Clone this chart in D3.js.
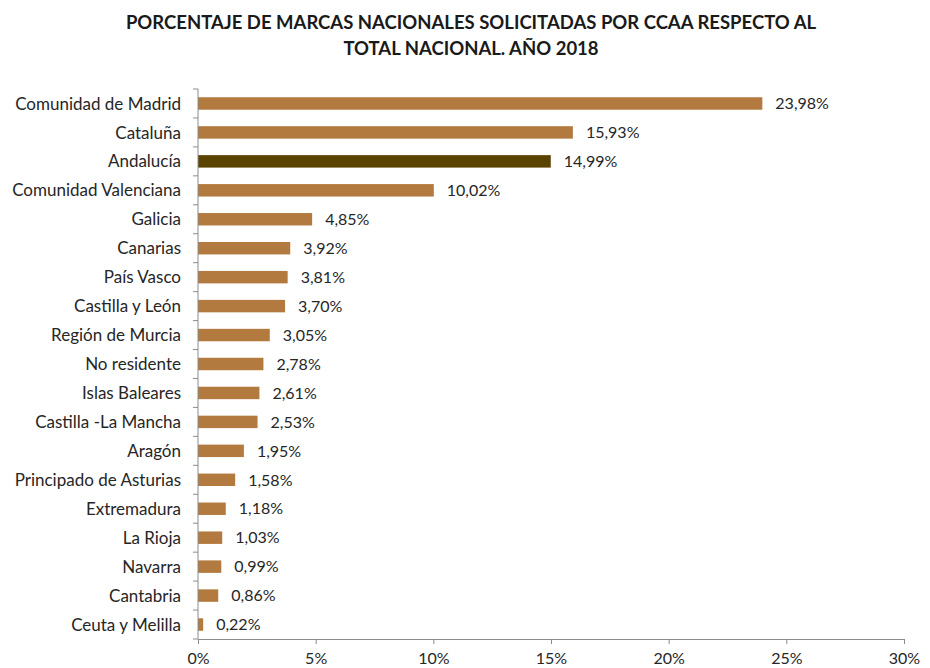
<!DOCTYPE html>
<html><head><meta charset="utf-8">
<script src="https://cdn.jsdelivr.net/npm/d3@7"></script>
<style>body{margin:0;background:#fff;} text{font-family:Lato,"Open Sans",sans-serif;}</style>
</head><body>
<svg id="c" width="930" height="668"></svg>
<script>
const categories = ["Comunidad de Madrid","Cataluña","Andalucía","Comunidad Valenciana","Galicia","Canarias","País Vasco","Castilla y León","Región de Murcia","No residente","Islas Baleares","Castilla -La Mancha","Aragón","Principado de Asturias","Extremadura","La Rioja","Navarra","Cantabria","Ceuta y Melilla"];
const values = [23.98,15.93,14.99,10.02,4.85,3.92,3.81,3.70,3.05,2.78,2.61,2.53,1.95,1.58,1.18,1.03,0.99,0.86,0.22];
const xTicks = [0,5,10,15,20,25,30];
const highlight = "Andalucía";
const titleLines = ["PORCENTAJE DE MARCAS NACIONALES SOLICITADAS POR CCAA RESPECTO AL","TOTAL NACIONAL. AÑO 2018"];

(function(){
const svg = d3.select("#c");
const mL = 198, mR = 904, mT = 89, mB = 639;
const x = d3.scaleLinear().domain([0,30]).range([mL,mR]);
const y = d3.scaleBand().domain(categories).range([mT,mB]).paddingInner(0.57).paddingOuter(0.285);
const fmt = v => d3.format(".2f")(v).replace(".", ",") + "%";
const FF = 'Lato,"Open Sans",sans-serif';
const TXT = "#262626";

svg.append("g").selectAll("text").data(titleLines).join("text")
  .attr("x",471).attr("y",(d,i)=>29+i*26).attr("text-anchor","middle")
  .attr("font-weight","bold").attr("font-size",18.5).attr("fill","#1a1a1a").text(d=>d);

svg.append("g").selectAll("rect").data(categories).join("rect")
  .attr("x",x(0)).attr("y",d=>y(d)).attr("height",y.bandwidth())
  .attr("width",(d,i)=>x(values[i])-x(0))
  .attr("fill",d=>d===highlight?"#5a4200":"#b27a3f");

svg.append("g").selectAll("text").data(categories).join("text")
  .attr("x",(d,i)=>x(values[i])+13).attr("y",d=>y(d)+y.bandwidth()/2).attr("dy","0.36em")
  .attr("font-size",16).attr("fill",TXT).text((d,i)=>fmt(values[i]));

const ya = svg.append("g");
ya.append("line").attr("x1",mL).attr("x2",mL).attr("y1",mT).attr("y2",mB).attr("stroke","#8c8c8c");
const yTickPos = d3.range(categories.length+1).map(i=>mT+i*(mB-mT)/categories.length);
ya.selectAll("line.t").data(yTickPos).join("line").attr("class","t")
  .attr("x1",mL-5).attr("x2",mL).attr("y1",d=>d).attr("y2",d=>d).attr("stroke","#8c8c8c");
ya.selectAll("text").data(categories).join("text")
  .attr("x",mL-17).attr("y",d=>y(d)+y.bandwidth()/2).attr("dy","0.36em").attr("text-anchor","end")
  .attr("font-size",17).attr("fill",TXT).text(d=>d);

const xa = svg.append("g").attr("transform",`translate(0,${mB})`)
  .call(d3.axisBottom(x).tickValues(xTicks).tickSize(5).tickPadding(9).tickFormat(d=>d+"%"));
xa.select(".domain").attr("stroke","#8c8c8c");
xa.selectAll(".tick line").attr("stroke","#8c8c8c");
xa.selectAll("text").attr("font-size",16).attr("fill",TXT).attr("font-family",FF);
})();
</script>
</body></html>
